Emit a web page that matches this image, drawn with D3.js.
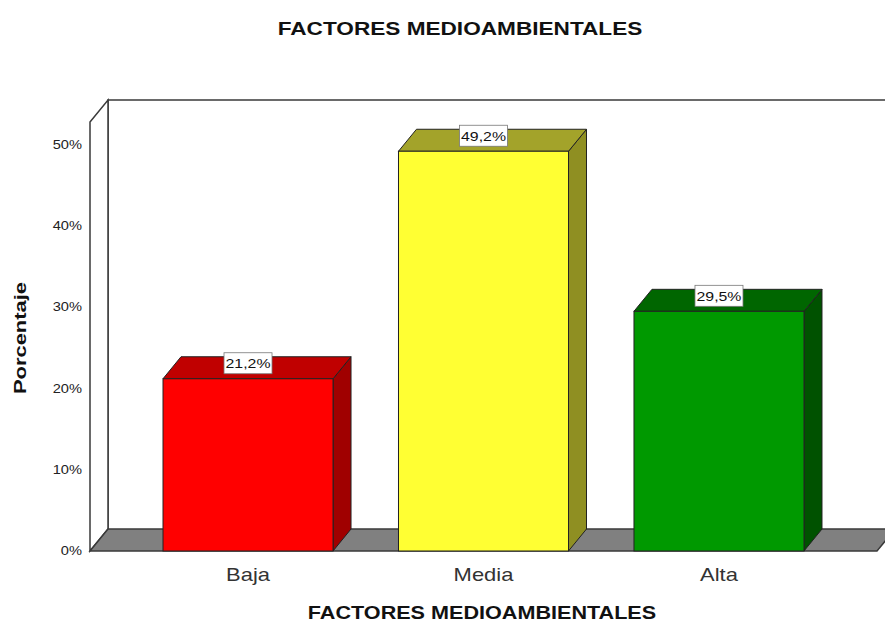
<!DOCTYPE html>
<html>
<head>
<meta charset="utf-8">
<script src="https://cdn.jsdelivr.net/npm/d3@7/dist/d3.min.js"></script>
<style>
  body { margin: 0; background: #fff; }
  svg { display: block; font-family: Arial, "Liberation Sans", sans-serif; }
</style>
</head>
<body>
<div id="chart"></div>
<script>
// datos
const categorias = ["Baja", "Media", "Alta"];
const porcentajes = [21.2, 49.2, 29.5];
const etiquetas = ["21,2%", "49,2%", "29,5%"];
const ticks = [0, 10, 20, 30, 40, 50];
const colorFrente = ["#ff0000", "#ffff33", "#009900"];
const colorArriba = ["#c00000", "#a3a32a", "#006600"];
const colorLado = ["#a00000", "#8f8f22", "#005200"];

let width = 885, height = 626;
let depthX = 18, depthY = 22;
let x0 = 90, x1 = 877, yBase = 551, yTop = 122;
const stretch = 1.22; // el texto del original sale mas ancho

let svg = d3.select("#chart").append("svg")
  .attr("width", width)
  .attr("height", height);

let x = d3.scaleBand()
  .domain(categorias)
  .range([x0, x1])
  .paddingInner(0.278)
  .paddingOuter(0.31);

let y = d3.scaleLinear()
  .domain([0, 52.8])
  .range([yBase, yTop]);

const wallStroke = "#3a3a3a";

// pared de fondo
svg.append("path")
  .attr("d", `M${x0 + depthX},${yBase - depthY} L${x0 + depthX},${yTop - depthY} L${x1 + depthX},${yTop - depthY} L${x1 + depthX},${yBase - depthY}`)
  .attr("fill", "#fff")
  .attr("stroke", wallStroke)
  .attr("stroke-width", 1.5);

// pared izquierda
svg.append("polygon")
  .attr("points", [[x0, yTop], [x0 + depthX, yTop - depthY], [x0 + depthX, yBase - depthY], [x0, yBase]].join(" "))
  .attr("fill", "#fff")
  .attr("stroke", wallStroke)
  .attr("stroke-width", 1.5);

// piso
svg.append("polygon")
  .attr("points", [[x0, yBase], [x0 + depthX, yBase - depthY], [x1 + depthX, yBase - depthY], [x1, yBase]].join(" "))
  .attr("fill", "#808080")
  .attr("stroke", wallStroke)
  .attr("stroke-width", 1.5);

// eje y
svg.append("g")
  .selectAll("text")
  .data(ticks)
  .join("text")
  .attr("transform", d => `translate(${x0 - 8},${y(d) + 4}) scale(${stretch},1)`)
  .attr("text-anchor", "end")
  .attr("font-size", 12)
  .attr("fill", "#222")
  .text(d => d + "%");

// barras
let bars = svg.append("g")
  .selectAll("g")
  .data(porcentajes)
  .join("g");

bars.append("polygon")
  .attr("points", (d, i) => {
    let xl = x(categorias[i]), xr = xl + x.bandwidth(), yv = y(d);
    return [[xr, yv], [xr + depthX, yv - depthY], [xr + depthX, yBase - depthY], [xr, yBase]].join(" ");
  })
  .attr("fill", (d, i) => colorLado[i])
  .attr("stroke", "#222")
  .attr("stroke-width", 1);

bars.append("polygon")
  .attr("points", (d, i) => {
    let xl = x(categorias[i]), xr = xl + x.bandwidth(), yv = y(d);
    return [[xl, yv], [xl + depthX, yv - depthY], [xr + depthX, yv - depthY], [xr, yv]].join(" ");
  })
  .attr("fill", (d, i) => colorArriba[i])
  .attr("stroke", "#222")
  .attr("stroke-width", 1);

bars.append("rect")
  .attr("x", (d, i) => x(categorias[i]))
  .attr("y", d => y(d))
  .attr("width", x.bandwidth())
  .attr("height", d => yBase - y(d))
  .attr("fill", (d, i) => colorFrente[i])
  .attr("stroke", "#222")
  .attr("stroke-width", 1);

// etiquetas de valor
bars.append("rect")
  .attr("x", (d, i) => x(categorias[i]) + x.bandwidth() / 2 - 24)
  .attr("y", d => y(d) - 26)
  .attr("width", 48)
  .attr("height", 21)
  .attr("fill", "#fff")
  .attr("stroke", "#777")
  .attr("stroke-width", 0.8);

bars.append("text")
  .attr("transform", (d, i) => `translate(${x(categorias[i]) + x.bandwidth() / 2},${y(d) - 10.5}) scale(${stretch},1)`)
  .attr("text-anchor", "middle")
  .attr("font-size", 13)
  .attr("fill", "#111")
  .text((d, i) => etiquetas[i]);

// categorias
svg.append("g")
  .selectAll("text")
  .data(categorias)
  .join("text")
  .attr("transform", d => `translate(${x(d) + x.bandwidth() / 2},${581}) scale(${stretch},1)`)
  .attr("text-anchor", "middle")
  .attr("font-size", 18)
  .attr("fill", "#333")
  .text(d => d);

// titulos
svg.append("text")
  .attr("transform", `translate(460,35) scale(1.19,1)`)
  .attr("text-anchor", "middle")
  .attr("font-size", 19)
  .attr("font-weight", "bold")
  .attr("fill", "#111")
  .text("FACTORES MEDIOAMBIENTALES");

svg.append("text")
  .attr("transform", `translate(482,619) scale(1.2,1)`)
  .attr("text-anchor", "middle")
  .attr("font-size", 18)
  .attr("font-weight", "bold")
  .attr("fill", "#111")
  .text("FACTORES MEDIOAMBIENTALES");

svg.append("text")
  .attr("transform", "translate(26,338) rotate(-90) scale(1.29,1)")
  .attr("text-anchor", "middle")
  .attr("font-size", 17)
  .attr("font-weight", "bold")
  .attr("fill", "#111")
  .text("Porcentaje");
</script>
</body>
</html>
